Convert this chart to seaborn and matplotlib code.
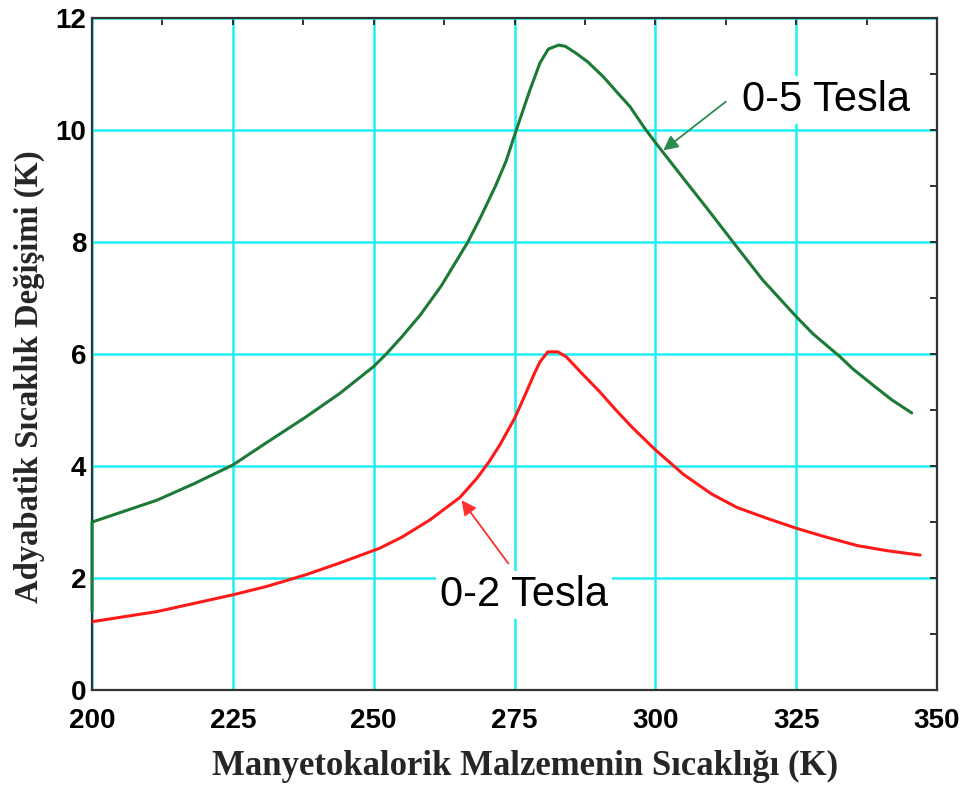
import matplotlib
matplotlib.use("Agg")
import matplotlib.pyplot as plt
from matplotlib.ticker import MultipleLocator
import pandas as pd
import seaborn as sns

# Adiabatic temperature change vs. temperature of the magnetocaloric material
temp_5T = [200, 200, 211.5, 218, 225, 231, 238, 244, 250, 252.2, 255, 258.2,
           262, 266.7, 269, 271.6, 273.5, 275.3, 277.7, 279.5, 281, 282.8, 284,
           286, 288, 290.8, 293, 295.5, 298, 300, 304.5, 309.2, 313.8, 319,
           325, 328, 332.7, 335, 338.7, 342, 345.5]
dT_5T = [1.4, 3.0, 3.39, 3.68, 4.02, 4.42, 4.88, 5.3, 5.78, 6.0, 6.31, 6.69,
         7.22, 8.0, 8.45, 9.0, 9.45, 10.0, 10.71, 11.2, 11.45, 11.52, 11.5,
         11.37, 11.22, 10.95, 10.7, 10.42, 10.05, 9.78, 9.2, 8.6, 8.0, 7.33,
         6.67, 6.36, 5.96, 5.74, 5.44, 5.18, 4.95]

temp_2T = [200, 211.5, 225, 231, 235, 238, 244, 251, 255, 260, 265.3, 268.3,
           270.5, 272.4, 275, 277, 278.5, 279.5, 280.9, 282.7, 284.2, 287,
           290.1, 293, 296, 300, 305, 310, 314.5, 320, 325, 330, 335.8, 341, 347]
dT_2T = [1.22, 1.40, 1.70, 1.85, 1.97, 2.06, 2.27, 2.53, 2.73, 3.04, 3.44, 3.78,
         4.08, 4.38, 4.85, 5.3, 5.65, 5.86, 6.04, 6.04, 5.95, 5.65, 5.33, 5.0,
         4.68, 4.29, 3.85, 3.5, 3.26, 3.06, 2.89, 2.74, 2.58, 2.49, 2.41]

series_labels = ["0-5 Tesla", "0-2 Tesla"]
x_ticks = [200, 225, 250, 275, 300, 325, 350]
y_ticks = [0, 2, 4, 6, 8, 10, 12]

GREEN = "#1c7a36"
RED = "#ff1a1a"
GRID = "#1eeef4"

sns.set_style("white")
plt.rcParams["font.family"] = ["Liberation Sans", "DejaVu Sans"]

fig = plt.figure(figsize=(9.8, 7.94), dpi=100)
ax = fig.add_axes([0.0939, 0.131, 0.8623, 0.846])

df5 = pd.DataFrame({"T": temp_5T, "dT": dT_5T})
df2 = pd.DataFrame({"T": temp_2T, "dT": dT_2T})
sns.lineplot(data=df5, x="T", y="dT", ax=ax, color=GREEN, lw=2.2,
             estimator=None, sort=False, zorder=3, clip_on=False)
sns.lineplot(data=df2, x="T", y="dT", ax=ax, color=RED, lw=2.2,
             estimator=None, sort=False, zorder=3)

ax.set_xlim(200, 350)
ax.set_ylim(0, 12)
ax.set_xticks(x_ticks)
ax.set_yticks(y_ticks)
ax.xaxis.set_minor_locator(MultipleLocator(12.5))
ax.yaxis.set_minor_locator(MultipleLocator(1))
ax.grid(True, which="major", color=GRID, lw=1.8)
ax.set_axisbelow(True)

ax.tick_params(which="both", direction="in", top=True, right=True,
               color="#222222", width=1.3, length=5)
ax.tick_params(axis="x", which="major", pad=13)
ax.tick_params(axis="y", which="major", pad=4)
for lab in ax.get_xticklabels() + ax.get_yticklabels():
    lab.set_fontsize(20)
    lab.set_fontweight("bold")
    lab.set_color("black")

for sp in ax.spines.values():
    sp.set_color("#333333")
    sp.set_linewidth(1.6)

ax.set_xlabel("Manyetokalorik Malzemenin Sıcaklığı (K)",
              family="Liberation Serif", fontweight="bold", fontsize=25)
ax.set_ylabel("Adyabatik Sıcaklık Değişimi (K)",
              family="Liberation Serif", fontweight="bold", fontsize=23.5)
ax.xaxis.set_label_coords(0.512, -0.09)
ax.yaxis.set_label_coords(-0.056, 0.467)

text_box = dict(boxstyle="square,pad=0.1", fc="white", ec="none")
ax.annotate(series_labels[0], xy=(315.4, 10.54), fontsize=30, va="center",
            ha="left", color="black", bbox=text_box, zorder=4)
ax.annotate("", xy=(301.4, 9.64), xytext=(312.5, 10.51),
            arrowprops=dict(arrowstyle="-|>", color="#2a8a50", lw=1.3,
                            mutation_scale=22, shrinkA=0, shrinkB=0),
            zorder=4)
ax.annotate(series_labels[1], xy=(261.8, 1.70), fontsize=30, va="center",
            ha="left", color="black", bbox=text_box, zorder=4)
ax.annotate("", xy=(265.6, 3.39), xytext=(273.9, 2.26),
            arrowprops=dict(arrowstyle="-|>", color="#ff3030", lw=1.3,
                            mutation_scale=22, shrinkA=0, shrinkB=0),
            zorder=4)

fig.savefig("out.png", dpi=100, facecolor="white")
